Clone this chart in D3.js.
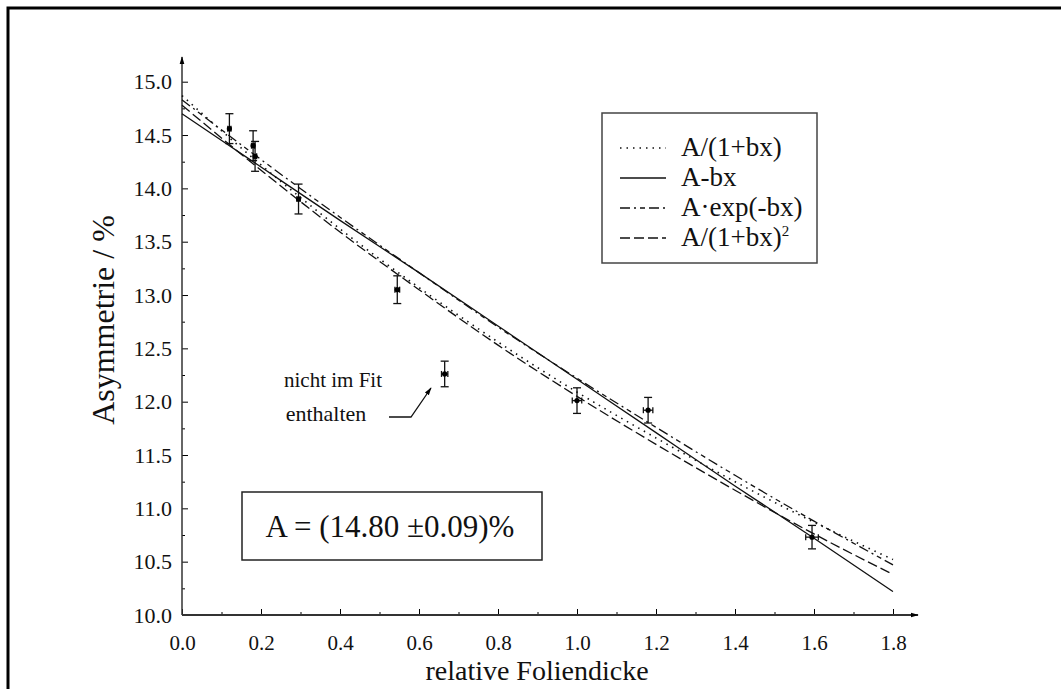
<!DOCTYPE html>
<html>
<head>
<meta charset="utf-8">
<script src="https://cdn.jsdelivr.net/npm/d3@7"></script>
<style>
  body { margin: 0; background: #fff; }
</style>
</head>
<body>
<script>
// measured points: relative foil thickness, asymmetry, errors
var foilX = [0.12, 0.18, 0.185, 0.295, 0.545, 0.665, 1.0, 1.18, 1.595];
var asymY = [14.56, 14.40, 14.30, 13.90, 13.05, 12.26, 12.01, 11.92, 10.73];
var errY = [0.14, 0.14, 0.14, 0.14, 0.13, 0.12, 0.12, 0.12, 0.11];
var errX = [0.004, 0.004, 0.004, 0.004, 0.006, 0.008, 0.012, 0.012, 0.016];

// fit curves
var fitX = [0.0, 0.2, 0.4, 0.6, 0.8, 1.0, 1.2, 1.4, 1.6, 1.8];
var fitRecip = [14.87, 14.22, 13.62, 13.07, 12.56, 12.09, 11.66, 11.25, 10.87, 10.52];
var fitLinear = [14.70, 14.20, 13.70, 13.21, 12.71, 12.21, 11.71, 11.21, 10.72, 10.22];
var fitExp = [14.83, 14.27, 13.73, 13.21, 12.70, 12.22, 11.76, 11.31, 10.88, 10.47];
var fitRecip2 = [14.78, 14.17, 13.59, 13.05, 12.53, 12.05, 11.60, 11.17, 10.76, 10.38];

var legendLabels = ["A/(1+bx)", "A-bx", "A\u00b7exp(-bx)", "A/(1+bx)"];
var legendDash = ["1.5,5", null, "10,4,2,4,5,4", "10,4"];
var xTicks = [0.0, 0.2, 0.4, 0.6, 0.8, 1.0, 1.2, 1.4, 1.6, 1.8];
var yTicks = [10.0, 10.5, 11.0, 11.5, 12.0, 12.5, 13.0, 13.5, 14.0, 14.5, 15.0];

var serif = "'Liberation Serif', 'Times New Roman', serif";
var svgWidth = 1061;
var svgHeight = 689;

var svg = d3.select("body")
  .append("svg")
  .attr("width", svgWidth)
  .attr("height", svgHeight);

// page frame (top and left edges)
svg.append("path")
  .attr("d", "M8,689 V8 H1061")
  .attr("fill", "none")
  .attr("stroke", "#000")
  .attr("stroke-width", 3);

var x = d3.scaleLinear().domain([0, 1.8]).range([182, 893]);
var y = d3.scaleLinear().domain([10, 15]).range([615, 81.7]);

// minor ticks
var xMinor = d3.range(0.1, 1.81, 0.2);
var yMinor = d3.range(10.25, 15, 0.5);

svg.append("g")
  .attr("transform", "translate(0,615)")
  .call(d3.axisBottom(x).tickValues(xMinor).tickSize(-3).tickFormat(""))
  .call(g => g.select(".domain").remove());
svg.append("g")
  .attr("transform", "translate(182,0)")
  .call(d3.axisLeft(y).tickValues(yMinor).tickSize(-3).tickFormat(""))
  .call(g => g.select(".domain").remove());

var xAxis = svg.append("g")
  .attr("transform", "translate(0,615)")
  .attr("font-family", serif)
  .call(d3.axisBottom(x).tickValues(xTicks).tickSize(-6).tickPadding(20).tickFormat(d3.format(".1f")));
xAxis.select(".domain").remove();
xAxis.selectAll("text").attr("font-size", 21).style("font-family", serif).attr("fill", "#111");

var yAxis = svg.append("g")
  .attr("transform", "translate(182,0)")
  .attr("font-family", serif)
  .call(d3.axisLeft(y).tickValues(yTicks).tickSize(-6).tickPadding(10).tickFormat(d3.format(".1f")));
yAxis.select(".domain").remove();
yAxis.selectAll("text").attr("font-size", 22).style("font-family", serif).attr("fill", "#111");

// axis lines with arrow heads
svg.append("defs").append("marker")
  .attr("id", "arr")
  .attr("viewBox", "0 0 10 10")
  .attr("refX", 9).attr("refY", 5)
  .attr("markerWidth", 8).attr("markerHeight", 8)
  .attr("markerUnits", "userSpaceOnUse")
  .attr("orient", "auto")
  .append("path").attr("d", "M0,2 L10,5 L0,8 Z").attr("fill", "#000");

svg.append("line")
  .attr("x1", 182).attr("y1", 615).attr("x2", 918).attr("y2", 615)
  .attr("stroke", "#333").attr("stroke-width", 2).attr("marker-end", "url(#arr)");
svg.append("line")
  .attr("x1", 182).attr("y1", 615).attr("x2", 182).attr("y2", 57)
  .attr("stroke", "#333").attr("stroke-width", 1.5).attr("marker-end", "url(#arr)");

// fit lines
var fits = [fitRecip, fitLinear, fitExp, fitRecip2];
var line = d3.line()
  .x((d, i) => x(fitX[i]))
  .y(d => y(d))
  .curve(d3.curveMonotoneX);

fits.forEach(function(vals, k) {
  svg.append("path")
    .attr("d", line(vals))
    .attr("fill", "none")
    .attr("stroke", "#111")
    .attr("stroke-width", k == 0 ? 1.6 : 1.3)
    .attr("stroke-dasharray", legendDash[k]);
});

// error bars and points
var pts = svg.append("g").attr("stroke", "#111").attr("stroke-width", 1.3);
foilX.forEach(function(fx, i) {
  var cx = x(fx), cy = y(asymY[i]);
  var top = y(asymY[i] + errY[i]), bot = y(asymY[i] - errY[i]);
  pts.append("line").attr("x1", cx).attr("x2", cx).attr("y1", top).attr("y2", bot);
  pts.append("line").attr("x1", cx - 4).attr("x2", cx + 4).attr("y1", top).attr("y2", top);
  pts.append("line").attr("x1", cx - 4).attr("x2", cx + 4).attr("y1", bot).attr("y2", bot);
  var l = x(fx - errX[i]), r = x(fx + errX[i]);
  pts.append("line").attr("x1", l).attr("x2", r).attr("y1", cy).attr("y2", cy);
  pts.append("line").attr("x1", l).attr("x2", l).attr("y1", cy - 3).attr("y2", cy + 3);
  pts.append("line").attr("x1", r).attr("x2", r).attr("y1", cy - 3).attr("y2", cy + 3);
  svg.append("circle").attr("cx", cx).attr("cy", cy).attr("r", 2.6).attr("fill", "#000");
});

// legend
var leg = svg.append("g");
leg.append("rect")
  .attr("x", 602).attr("y", 113).attr("width", 215).attr("height", 150)
  .attr("fill", "#fff").attr("stroke", "#444").attr("stroke-width", 1.5);
legendLabels.forEach(function(lab, k) {
  var ly = 148 + k * 30;
  leg.append("line")
    .attr("x1", 620).attr("x2", 666).attr("y1", ly).attr("y2", ly)
    .attr("stroke", "#111").attr("stroke-width", k == 0 ? 1.6 : 1.3)
    .attr("stroke-dasharray", legendDash[k]);
  var t = leg.append("text")
    .attr("x", 681).attr("y", ly + 8)
    .attr("font-size", 27)
    .style("font-family", serif)
    .attr("fill", "#111")
    .text(lab);
  if (k == 3) {
    t.append("tspan").attr("dy", -10).attr("font-size", 15).text("2");
  }
});

// result box
svg.append("rect")
  .attr("x", 242).attr("y", 492).attr("width", 300).attr("height", 68)
  .attr("fill", "#fff").attr("stroke", "#222").attr("stroke-width", 1.5);
svg.append("text")
  .attr("x", 390).attr("y", 537)
  .attr("text-anchor", "middle")
  .attr("font-size", 31)
  .style("font-family", serif)
  .attr("fill", "#111")
  .text("A = (14.80 \u00b10.09)%");

// annotation
svg.append("text").attr("x", 333).attr("y", 387).attr("text-anchor", "middle")
  .attr("font-size", 21).style("font-family", serif).attr("fill", "#111").text("nicht im Fit");
svg.append("text").attr("x", 326).attr("y", 421).attr("text-anchor", "middle")
  .attr("font-size", 22).style("font-family", serif).attr("fill", "#111").text("enthalten");
svg.append("path")
  .attr("d", "M389,417 H411 L431,388")
  .attr("fill", "none").attr("stroke", "#111").attr("stroke-width", 1.3)
  .attr("marker-end", "url(#arr)");

// axis titles
svg.append("text")
  .attr("x", 537).attr("y", 680)
  .attr("text-anchor", "middle")
  .attr("font-size", 28)
  .style("font-family", serif)
  .attr("fill", "#111")
  .text("relative Foliendicke");
svg.append("text")
  .attr("transform", "translate(114,320) rotate(-90)")
  .attr("text-anchor", "middle")
  .attr("font-size", 32)
  .style("font-family", serif)
  .attr("fill", "#111")
  .text("Asymmetrie / %");
</script>
</body>
</html>
